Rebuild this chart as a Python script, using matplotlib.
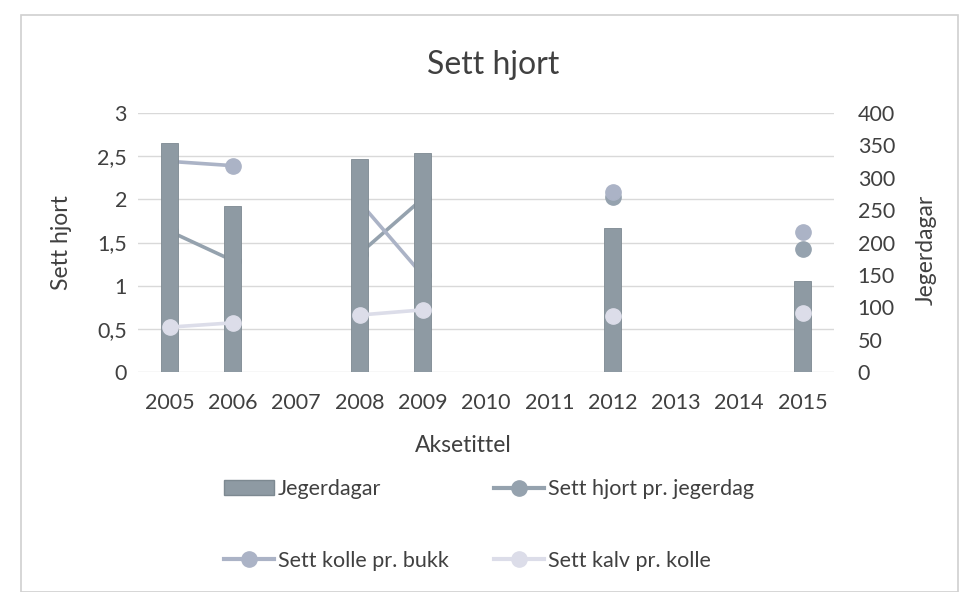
import numpy as np
import matplotlib
matplotlib.use('Agg')
import matplotlib.pyplot as plt
from matplotlib.lines import Line2D
from matplotlib.patches import Patch, Rectangle

plt.rcParams['font.family'] = ['Lato', 'DejaVu Sans']

years = ['2005', '2006', '2007', '2008', '2009', '2010', '2011', '2012', '2013', '2014', '2015']
jegerdagar = [354, 256, np.nan, 329, 338, np.nan, np.nan, 222, np.nan, np.nan, 141]
hjort_pr_jegerdag = [1.63, 1.29, np.nan, 1.37, 2.01, np.nan, np.nan, 2.03, np.nan, np.nan, 1.43]
kolle_pr_bukk = [2.44, 2.39, np.nan, 1.97, 1.12, np.nan, np.nan, 2.09, np.nan, np.nan, 1.62]
kalv_pr_kolle = [0.52, 0.57, np.nan, 0.66, 0.72, np.nan, np.nan, 0.65, np.nan, np.nan, 0.68]

bar_col = '#8e9aa3'
hjort_col = '#95a2ae'
kolle_col = '#abb3c6'
kalv_col = '#dcdde9'
txt_col = '#404040'
fs = 15.5

fig = plt.figure(figsize=(9.61, 5.92), dpi=100)
fig.patches.append(Rectangle((0.022, 0.0), 0.975, 0.975, transform=fig.transFigure,
                             fill=False, edgecolor='#d0d0d0', linewidth=1.2))

# ax: left scale, grid, hjort/kolle lines (behind the bars)
# ax2: right scale, bars
# ax3: left scale again, kalv line on top
ax = fig.add_axes([0.1436, 0.3716, 0.7244, 0.4375])
ax2 = ax.twinx()
ax3 = ax.twinx()
ax.set_zorder(0)
ax2.set_zorder(1)
ax3.set_zorder(2)
ax2.patch.set_visible(False)
ax3.patch.set_visible(False)

x = np.arange(len(years))
ms = 11
lw = 2.6

ax.plot(x, hjort_pr_jegerdag, color=hjort_col, lw=lw, marker='o', ms=ms, mec=hjort_col)
ax.plot(x, kolle_pr_bukk, color=kolle_col, lw=lw, marker='o', ms=ms, mec=kolle_col)
ax.set_ylim(0, 3)
ax.set_yticks(np.arange(0, 3.01, 0.5))
ax.set_yticklabels(['0', '0,5', '1', '1,5', '2', '2,5', '3'])
ax.set_xlim(-0.5, len(years) - 0.5)
ax.set_xticks(x)
ax.set_xticklabels(years)
ax.grid(axis='y', color='#d9d9d9', linewidth=1.0)
ax.set_axisbelow(True)
ax.tick_params(axis='both', length=0, labelsize=fs, colors=txt_col)
ax.tick_params(axis='y', pad=8)
ax.tick_params(axis='x', pad=15)

ax2.bar(x, jegerdagar, width=0.27, color=bar_col, edgecolor='#7d8991', linewidth=0.6)
ax2.set_ylim(0, 400)
ax2.set_yticks(np.arange(0, 401, 50))
ax2.tick_params(axis='y', length=0, labelsize=fs, colors=txt_col, pad=17)

ax3.plot(x, kalv_pr_kolle, color=kalv_col, lw=lw, marker='o', ms=ms, mec=kalv_col)
ax3.set_ylim(0, 3)
ax3.set_yticks([])

for a in (ax, ax2, ax3):
    for s in a.spines.values():
        s.set_visible(False)

fig.text(0.513, 0.89, 'Sett hjort', ha='center', va='center', fontsize=23, color=txt_col)
fig.text(0.482, 1 - 446 / 592, 'Aksetittel', ha='center', va='center', fontsize=fs + 1, color=txt_col)
fig.text(62 / 961, 1 - 243 / 592, 'Sett hjort', ha='center', va='center', rotation=90,
         fontsize=fs + 1, color=txt_col)
fig.text(926 / 961, 1 - 250 / 592, 'Jegerdagar', ha='center', va='center', rotation=90,
         fontsize=fs + 1, color=txt_col)

handles = [
    Patch(facecolor=bar_col, edgecolor='#7d8991', label='Jegerdagar'),
    Line2D([], [], color=kolle_col, lw=3, marker='o', ms=ms, label='Sett kolle pr. bukk'),
    Line2D([], [], color=hjort_col, lw=3, marker='o', ms=ms, label='Sett hjort pr. jegerdag'),
    Line2D([], [], color=kalv_col, lw=3, marker='o', ms=ms, label='Sett kalv pr. kolle'),
]
leg = fig.legend(handles=handles, ncol=2, loc='center', bbox_to_anchor=(0.509, 0.113),
                 frameon=False, fontsize=fs, handlelength=2.3, handletextpad=0.2,
                 columnspacing=2.1, labelspacing=2.4)
for t in leg.get_texts():
    t.set_color(txt_col)

fig.savefig('out.png', dpi=100, facecolor='white')
